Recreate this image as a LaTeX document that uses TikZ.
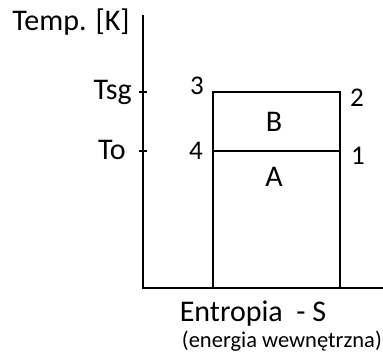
\documentclass[tikz,border=0pt]{standalone}
\usepackage{fontspec}
\setmainfont{Carlito}
\usetikzlibrary{positioning}

\begin{document}
\begin{tikzpicture}[
    x=1pt, y=1pt,
    axis/.style={line width=1.5pt},
    box/.style={line width=1.5pt},
    lbl/.style={inner sep=0pt, font=\fontsize{30}{34}\selectfont},
    num/.style={inner sep=0pt, font=\fontsize{27}{31}\selectfont},
    note/.style={inner sep=0pt, font=\fontsize{22.5}{26}\selectfont}
]
\useasboundingbox (0,0) rectangle (383,353);
\coordinate (o) at (143,65);
\coordinate (ytop) at (143,338);
\coordinate (xend) at (383,65);
\coordinate (p3) at (213,261);
\coordinate (p2) at (340,261);
\coordinate (p4) at (213,202);
\coordinate (p1) at (340,202);
\coordinate (b4) at (213,65);
\coordinate (b1) at (340,65);
\draw[axis] (ytop) -- (o) -- (xend);
\draw[axis] (139,261) -- (147,261);
\draw[axis] (139,202) -- (147,202);
\draw[box] (b4) -- (p3) -- (p2) -- (b1);
\draw[box] (p4) -- (p1);
\node[lbl] (temp) at (71,331) {Temp. [K]};
\node[lbl, anchor=base east] (tsg) at (132,253) {Tsg};
\node[lbl, anchor=base east] (to) at (126,193) {To};
\node[num, anchor=base] (n3) at (197,258) {3};
\node[num, anchor=base] (n4) at (196,193) {4};
\node[num, anchor=base] (n2) at (357,246) {2};
\node[num, anchor=base] (n1) at (358,188) {1};
\node[lbl, anchor=base] (b) at (274,221) {B};
\node[lbl, anchor=base] (a) at (274,166) {A};
\node[lbl, anchor=base] (entropia) at (253,31) {Entropia~~- S};
\node[note, anchor=base east] (energia) at (382,5) {(energia wewnętrzna)};
\end{tikzpicture}
\end{document}
